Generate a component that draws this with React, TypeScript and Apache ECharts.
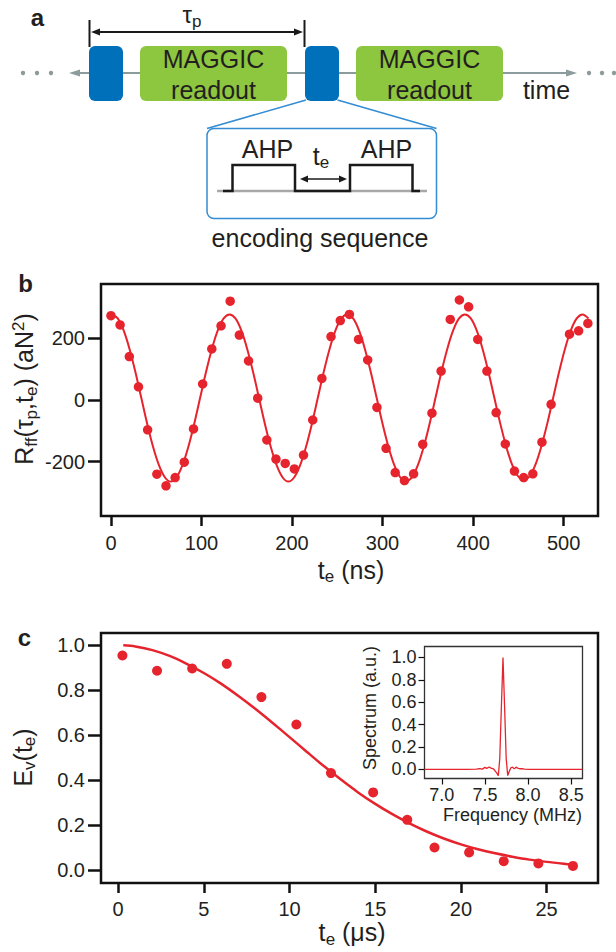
import React, { useEffect, useRef } from 'react';
import * as echarts from 'echarts';

const RED = '#E6242D';
const INK = '#231F20';
const FONT = '"Liberation Sans", Arial, Helvetica, sans-serif';

// ---------- Panel b : R_ff(tau_p, t_e) ----------
const bTimes = [0, 10.1, 20.3, 30.4, 40.5, 50.7, 60.8, 70.9, 81.0, 91.2, 101.3, 111.4, 121.6, 131.7, 141.8, 152.0, 162.1, 172.2, 182.3, 192.5, 202.6, 212.7, 222.9, 233.0, 243.1, 253.3, 263.4, 273.5, 283.6, 293.8, 303.9, 314.0, 324.2, 334.3, 344.4, 354.6, 364.7, 374.8, 384.9, 395.1, 405.2, 415.3, 425.5, 435.6, 445.7, 455.9, 466.0, 476.1, 486.2, 506.5, 516.6, 526.8];
const bValues = [274, 244, 141, 43, -97, -241, -279, -252, -202, -94, 52, 166, 241, 321, 211, 127, 6, -130, -192, -206, -224, -179, -65, 70, 206, 258, 278, 197, 130, -24, -157, -236, -262, -240, -144, -43, 94, 262, 325, 303, 197, 94, -41, -143, -231, -252, -240, -137, -14, 214, 225, 249];
const bFitTimes = [1, 7.5, 14, 20.5, 27, 33.5, 40, 46.5, 53, 59.5, 66, 72.5, 79, 85.5, 92, 98.5, 105, 111.5, 118, 124.5, 131, 137.5, 144, 150.5, 157, 163.5, 170, 176.5, 183, 189.5, 196, 202.5, 209, 215.5, 222, 228.5, 235, 241.5, 248, 254.5, 261, 267.5, 274, 280.5, 287, 293.5, 300, 306.5, 313, 319.5, 326, 332.5, 339, 345.5, 352, 358.5, 365, 371.5, 378, 384.5, 391, 397.5, 404, 410.5, 417, 423.5, 430, 436.5, 443, 449.5, 456, 462.5, 469, 475.5, 482, 488.5, 495, 501.5, 508, 514.5, 521, 527.5];
const bFitValues = [
  278, 265, 226, 166, 91, 7, -77, -152, -212, -251, -265, -251, -212, -152, -77, 7, 91, 166, 226, 265,
  278, 265, 226, 166, 91, 7, -77, -152, -212, -251, -265, -251, -212, -152, -77, 7, 91, 166, 226, 265,
  278, 265, 226, 166, 91, 7, -77, -152, -212, -251, -264, -251, -212, -152, -77, 7, 91, 166, 226, 265,
  278, 265, 226, 166, 91, 7, -76, -150, -209, -247, -260, -247, -209, -150, -76, 7, 91, 166, 226, 265,
  278, 265,
];
const bXTicks = [0, 100, 200, 300, 400, 500];
const bYTicks = [-200, 0, 200];

// ---------- Panel c : E_v(t_e) ----------
const cTimes = [0.25, 2.27, 4.32, 6.34, 8.36, 10.4, 12.42, 14.88, 16.87, 18.46, 20.48, 22.5, 24.52, 26.54];
const cValues = [0.955, 0.887, 0.897, 0.918, 0.77, 0.648, 0.432, 0.346, 0.224, 0.101, 0.079, 0.04, 0.03, 0.019];
const cFitTimes = [0.3, 1, 2, 3, 4, 5, 6, 7, 8, 9, 10, 11, 12, 13, 14, 15, 16, 17, 18, 19, 20, 21, 22, 23, 24, 25, 26, 26.6];
const cFitValues = [1.0, 0.995, 0.979, 0.953, 0.918, 0.877, 0.83, 0.776, 0.718, 0.656, 0.592, 0.527, 0.463, 0.403, 0.346, 0.295, 0.249, 0.208, 0.172, 0.141, 0.115, 0.093, 0.075, 0.06, 0.047, 0.037, 0.029, 0.025];
const cXTicks = [0, 5, 10, 15, 20, 25];
const cYTicks = [0, 0.2, 0.4, 0.6, 0.8, 1.0];

// ---------- Inset : spectrum ----------
const insetFreq = [6.8, 6.9, 7.0, 7.1, 7.2, 7.3, 7.4, 7.44, 7.47, 7.5, 7.52, 7.55, 7.57, 7.6, 7.62, 7.64, 7.655, 7.672, 7.69, 7.709, 7.728, 7.746, 7.764, 7.78, 7.8, 7.82, 7.84, 7.86, 7.88, 7.9, 7.93, 7.96, 8.0, 8.1, 8.2, 8.3, 8.4, 8.5, 8.63];
const insetSpec = [0, 0, 0, 0, 0, 0, 0.002, 0.008, 0.003, 0.018, 0.01, 0.022, 0.012, 0.004, -0.015, -0.035, -0.057, 0.1, 0.55, 1.0, 0.55, 0.1, -0.055, -0.02, 0.015, 0.02, 0.005, 0.02, 0.012, 0.006, 0.008, 0.002, 0, 0, 0, 0, 0, 0, 0];
const insetXTicks = [7.0, 7.5, 8.0, 8.5];
const insetYTicks = [0, 0.2, 0.4, 0.6, 0.8, 1.0];

const zip = (xs: number[], ys: number[]) => xs.map((x, i) => [x, ys[i]]);

function txt(x: number, y: number, text: string, size: number, extra: any = {}) {
  return {
    type: 'text',
    x,
    y,
    z: 20,
    rotation: extra.rotation || 0,
    style: {
      text,
      fill: INK,
      font: `${extra.bold ? 'bold ' : ''}${size}px ${FONT}`,
      fontSize: size,
      fontFamily: FONT,
      fontWeight: extra.bold ? 'bold' : 'normal',
      align: 'center',
      verticalAlign: 'middle',
      textAlign: 'center',
      textVerticalAlign: 'middle',
      rich: extra.rich,
    },
  };
}

// subscripts dropped / superscripts raised with one-sided padding
function richSet(main: number, sub: number) {
  return {
    m: { fontSize: main, fontFamily: FONT, fill: INK },
    s: { fontSize: sub, fontFamily: FONT, fill: INK, padding: [14, 0, 0, 0] },
    u: { fontSize: sub, fontFamily: FONT, fill: INK, padding: [0, 0, 12, 0] },
    g: { fontSize: sub, fontFamily: FONT, fill: INK, width: 9.5 },
  };
}

function line(x1: number, y1: number, x2: number, y2: number, stroke: string, lineWidth: number) {
  return { type: 'line', z: 15, shape: { x1, y1, x2, y2 }, style: { stroke, lineWidth } };
}
function tri(points: number[][], fill: string) {
  return { type: 'polygon', z: 15, shape: { points }, style: { fill } };
}

const GREY = '#8C9B9B';
const BLUE = '#0070BA';
const GREEN = '#8DC63F';
const LBLUE = '#348CD2';

function buildGraphics() {
  const g: any[] = [];
  // panel letters
  g.push(txt(37.5, 17, 'a', 24, { bold: true }));
  g.push(txt(25.5, 283, 'b', 24, { bold: true }));
  g.push(txt(24.5, 637, 'c', 24, { bold: true }));

  // tau_p marker
  g.push(line(89.5, 20, 89.5, 47, '#1a1a1a', 2));
  g.push(line(304.5, 20, 304.5, 47, '#1a1a1a', 2));
  g.push(line(96, 32, 298, 32, '#1a1a1a', 2));
  g.push(tri([[91, 32], [100, 28.5], [100, 35.5]], '#1a1a1a'));
  g.push(tri([[303, 32], [294, 28.5], [294, 35.5]], '#1a1a1a'));
  g.push(txt(192, 14, '{m|τ}{s|p}', 24, { rich: richSet(24, 17) }));

  // time axis
  g.push(line(76, 73, 570, 73, GREY, 2));
  g.push(tri([[69, 73], [80, 69.5], [80, 76.5]], GREY));
  g.push(tri([[577, 73], [566, 69.5], [566, 76.5]], GREY));
  [23, 37, 51, 589, 602, 614].forEach((cx) =>
    g.push({ type: 'circle', z: 15, shape: { cx, cy: 73, r: 2.2 }, style: { fill: GREY } })
  );

  // connectors to encoding box
  g.push(line(306, 100, 207, 128.5, LBLUE, 1.5));
  g.push(line(337.5, 100, 436.5, 128.5, LBLUE, 1.5));

  // boxes
  [89, 305].forEach((x) =>
    g.push({ type: 'rect', z: 16, shape: { x, y: 46, width: 34, height: 55, r: 6 }, style: { fill: BLUE } })
  );
  [140, 356].forEach((x) => {
    g.push({ type: 'rect', z: 16, shape: { x, y: 46, width: 147, height: 55, r: 6 }, style: { fill: GREEN } });
    g.push(txt(x + 73.5, 58.5, 'MAGGIC', 25));
    g.push(txt(x + 73.5, 89.5, 'readout', 25));
  });
  g.push(txt(546.5, 89.5, 'time', 25));

  // encoding sequence box
  g.push({
    type: 'rect',
    z: 14,
    shape: { x: 207, y: 128.5, width: 229.5, height: 90, r: 7 },
    style: { fill: '#fff', stroke: LBLUE, lineWidth: 1.5 },
  });
  g.push(line(217, 191, 427, 191, '#A8A8A8', 2.5));
  g.push({
    type: 'polyline',
    z: 16,
    shape: {
      points: [[223, 191], [232.5, 191], [232.5, 165], [295, 165], [295, 191], [350, 191], [350, 165], [412.5, 165], [412.5, 191], [420, 191]],
    },
    style: { stroke: '#1a1a1a', lineWidth: 2.5, fill: null },
  });
  g.push(txt(267.5, 148.5, 'AHP', 25));
  g.push(txt(386.5, 148.5, 'AHP', 25));
  g.push(txt(321, 155.5, '{m|t}{s|e}', 25, { rich: richSet(25, 17) }));
  g.push(line(304, 179, 343, 179, '#1a1a1a', 1.5));
  g.push(tri([[300, 179], [308, 175.5], [308, 182.5]], '#1a1a1a'));
  g.push(tri([[347, 179], [339, 175.5], [339, 182.5]], '#1a1a1a'));
  g.push(txt(320, 238, 'encoding sequence', 25));

  // axis titles
  g.push(
    txt(24, 389, '{m|R}{s|ff}{m|(τ}{s|p}{m|,t}{s|e}{m|) (aN}{u|2}{m|)}', 25, {
      rich: richSet(25, 17),
      rotation: Math.PI / 2,
    })
  );
  g.push(txt(351, 569.5, '{m|t}{s|e}{m| (ns)}', 25, { rich: richSet(25, 17) }));
  g.push(txt(22.5, 757.5, '{m|E}{s|v}{m|(t}{s|e}{m|)}', 25, { rich: richSet(25, 17), rotation: Math.PI / 2 }));
  // c x title: compact box, subscript placed as its own small text
  g.push(txt(352, 932, '{m|t}{g| }{m| (μs)}', 25, { rich: richSet(25, 17) }));
  g.push(txt(330.5, 939, 'e', 17));
  g.push(txt(370, 708, 'Spectrum (a.u.)', 18, { rotation: Math.PI / 2 }));
  g.push(txt(512.5, 815, 'Frequency (MHz)', 18));
  return g;
}

function axis(gridIndex: number, min: number, max: number, ticks: number[], o: any) {
  return {
    type: 'value',
    gridIndex,
    min,
    max,
    axisLine: { show: false, onZero: false },
    splitLine: { show: false },
    axisTick: {
      show: true,
      inside: false,
      length: o.tickLen,
      customValues: ticks,
      lineStyle: { color: '#111', width: o.tickWidth },
    },
    axisLabel: {
      show: true,
      customValues: ticks,
      margin: o.margin,
      fontSize: o.fontSize,
      fontFamily: FONT,
      color: INK,
      formatter: o.fmt,
      showMinLabel: true,
      showMaxLabel: true,
    },
  };
}

export default function App() {
  const ref = useRef<HTMLDivElement>(null);
  useEffect(() => {
    document.body.style.margin = '0';
    if (!ref.current) return;
    const chart = echarts.init(ref.current, undefined, { renderer: 'svg' });
    const f1 = (v: number) => v.toFixed(1);
    const f0 = (v: number) => String(Math.round(v));
    chart.setOption({
      animation: false,
      backgroundColor: '#fff',
      textStyle: { fontFamily: FONT },
      grid: [
        { left: 101, top: 284, width: 497, height: 232, show: true, borderColor: '#111', borderWidth: 2.5, backgroundColor: 'transparent', containLabel: false, outerBoundsMode: 'none' },
        { left: 101, top: 633, width: 497, height: 250, show: true, borderColor: '#111', borderWidth: 2.5, backgroundColor: 'transparent', containLabel: false, outerBoundsMode: 'none' },
        { left: 424.5, top: 646.5, width: 158, height: 132, show: true, borderColor: '#333', borderWidth: 1.3, backgroundColor: '#fff', containLabel: false, outerBoundsMode: 'none' },
      ],
      xAxis: [
        axis(0, -11, 538, bXTicks, { tickLen: 10, tickWidth: 2.5, margin: 17, fontSize: 20, fmt: f0 }),
        axis(1, -1, 28, cXTicks, { tickLen: 10, tickWidth: 2.5, margin: 16, fontSize: 20, fmt: f0 }),
        axis(2, 6.8, 8.63, insetXTicks, { tickLen: 6, tickWidth: 1.2, margin: 7, fontSize: 18, fmt: f1 }),
      ],
      yAxis: [
        axis(0, -377, 377, bYTicks, { tickLen: 13, tickWidth: 2.5, margin: 16, fontSize: 20, fmt: f0 }),
        axis(1, -0.057, 1.055, cYTicks, { tickLen: 13, tickWidth: 2.5, margin: 16, fontSize: 20, fmt: f1 }),
        axis(2, -0.081, 1.098, insetYTicks, { tickLen: 6, tickWidth: 1.2, margin: 8, fontSize: 18, fmt: f1 }),
      ],
      series: [
        {
          type: 'line', xAxisIndex: 0, yAxisIndex: 0, data: zip(bFitTimes, bFitValues),
          showSymbol: false, smooth: 0.3, lineStyle: { color: RED, width: 2 }, z: 2,
        },
        {
          type: 'scatter', xAxisIndex: 0, yAxisIndex: 0, data: zip(bTimes, bValues),
          symbolSize: 9.5, itemStyle: { color: RED, opacity: 1 }, z: 3,
        },
        {
          type: 'line', xAxisIndex: 1, yAxisIndex: 1, data: zip(cFitTimes, cFitValues),
          showSymbol: false, smooth: 0.3, lineStyle: { color: RED, width: 2.5 }, z: 2,
        },
        {
          type: 'scatter', xAxisIndex: 1, yAxisIndex: 1, data: zip(cTimes, cValues),
          symbolSize: 10, itemStyle: { color: RED, opacity: 1 }, z: 3,
        },
        {
          type: 'line', xAxisIndex: 2, yAxisIndex: 2, data: zip(insetFreq, insetSpec),
          showSymbol: false, smooth: false, lineStyle: { color: RED, width: 1.3 }, z: 4,
        },
      ],
      graphic: buildGraphics(),
    });
    return () => chart.dispose();
  }, []);
  return <div ref={ref} style={{ width: 616, height: 952 }} />;
}
